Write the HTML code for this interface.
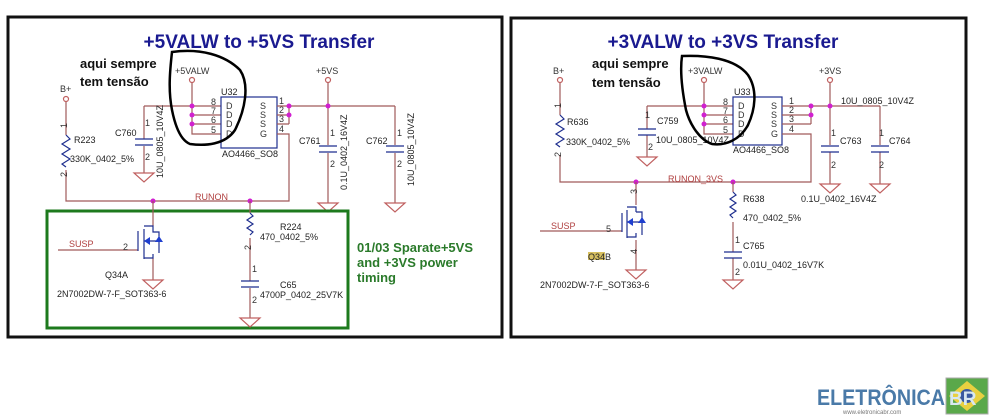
<!DOCTYPE html>
<html><head><meta charset="utf-8"><style>
html,body{margin:0;padding:0;background:#fff;}
svg{display:block;font-family:"Liberation Sans",sans-serif;}
.w{stroke:#a05a5a;stroke-width:1.2;fill:none}
.b{stroke:#1f2f8f;stroke-width:1.2;fill:none}
.d{fill:#d020d0}
.t{font-size:9px;fill:#222}
.p{font-size:9px;fill:#333}
.r{font-size:9px;fill:#b04040}
.g{stroke:#c06060;stroke-width:1.2;fill:none}
</style></head><body>
<svg width="1000" height="418" viewBox="0 0 1000 418">
<rect x="8" y="17" width="494" height="320" fill="none" stroke="#111" stroke-width="3"/>
<rect x="511" y="18" width="455" height="319" fill="none" stroke="#111" stroke-width="3"/>
<text x="259" y="48" text-anchor="middle" font-size="19" font-weight="bold" fill="#1a1a90">+5VALW to +5VS Transfer</text>
<text x="723" y="48" text-anchor="middle" font-size="19" font-weight="bold" fill="#1a1a90">+3VALW to +3VS Transfer</text>
<g font-size="13" font-weight="bold" fill="#111">
<text x="80" y="68">aqui sempre</text><text x="80" y="86">tem tensão</text>
<text x="592" y="68">aqui sempre</text><text x="592" y="87">tem tensão</text>
</g>

<!-- ===== LEFT ===== -->
<text x="175" y="74" class="p">+5VALW</text>
<circle cx="192" cy="80" r="2.5" class="g"/>
<path class="w" d="M192 83V134H221M192 106H221M192 115H221M192 124H221M144 106H192M144 106V139M144 146V173"/>
<rect x="221" y="97" width="56" height="51" class="b"/>
<text x="221" y="95" class="t" fill="#1f2f8f">U32</text>
<g class="p"><text x="211" y="105">8</text><text x="211" y="114">7</text><text x="211" y="123">6</text><text x="211" y="133">5</text>
<text x="226" y="109">D</text><text x="226" y="118">D</text><text x="226" y="127">D</text><text x="226" y="137">D</text>
<text x="260" y="109">S</text><text x="260" y="118">S</text><text x="260" y="127">S</text><text x="260" y="137">G</text>
<text x="279" y="104">1</text><text x="279" y="113">2</text><text x="279" y="122">3</text><text x="279" y="132">4</text></g>
<text x="222" y="157" class="t">AO4466_SO8</text>
<path class="w" d="M277 106H395M277 115H289M277 124H289M289 106V124M277 134H289V201H66V170"/>
<path class="b" d="M135 139H153M135 145H153"/>
<text x="115" y="136" class="t">C760</text><text x="145" y="126" class="p" font-size="8">1</text><text x="145" y="160" class="p" font-size="8">2</text>
<text transform="translate(163,178) rotate(-90)" class="t">10U_0805_10V4Z</text>
<polygon points="134,173 154,173 144,182" class="g"/>
<text x="60" y="92" class="p">B+</text>
<circle cx="66" cy="99" r="2.5" class="g"/>
<path class="w" d="M66 102V135"/>
<path class="b" d="M66 135l4 4-8 5 8 5-8 5 8 5-8 5 4 3"/>
<text x="74" y="143" class="t">R223</text><text x="70" y="162" class="t">330K_0402_5%</text>
<text transform="translate(67,128) rotate(-90)" class="p" font-size="8">1</text>
<text transform="translate(67,177) rotate(-90)" class="p" font-size="8">2</text>
<text x="316" y="74" class="p">+5VS</text>
<circle cx="328" cy="80" r="2.5" class="g"/>
<path class="w" d="M328 83V145M328 153V203M395 106V145M395 153V203"/>
<path class="b" d="M319 146H337M319 152H337M386 146H404M386 152H404"/>
<text x="299" y="144" class="t">C761</text><text x="366" y="144" class="t">C762</text>
<text x="330" y="136" class="p" font-size="8">1</text><text x="330" y="167" class="p" font-size="8">2</text>
<text x="397" y="136" class="p" font-size="8">1</text><text x="397" y="167" class="p" font-size="8">2</text>
<text transform="translate(347,190) rotate(-90)" class="t">0.1U_0402_16V4Z</text>
<text transform="translate(414,186) rotate(-90)" class="t">10U_0805_10V4Z</text>
<polygon points="318,203 338,203 328,212" class="g"/>
<polygon points="385,203 405,203 395,212" class="g"/>
<text x="195" y="200" class="r">RUNON</text>
<circle cx="153" cy="201" r="2.5" class="d"/><circle cx="250" cy="201" r="2.5" class="d"/>
<rect x="47" y="211" width="301" height="117" fill="none" stroke="#1d7a1d" stroke-width="3"/>
<g font-size="13" font-weight="bold" fill="#2a7a2a">
<text x="357" y="252">01/03 Sparate+5VS</text><text x="357" y="267">and +3VS power</text><text x="357" y="282">timing</text></g>
<path class="w" d="M153 201V226M153 258V280M58 250H138"/>
<path class="b" d="M138 231V251M144 229V259M144 226H153V232H159V253M144 241H159M144 258H153V254"/>
<polygon points="144,241 150,237 150,245" fill="#1f3fcf"/><polygon points="159,236 155,242 163,242" fill="#1f3fcf"/>
<text x="69" y="247" class="r">SUSP</text><text x="123" y="250" class="p">2</text>
<text x="105" y="278" class="t">Q34A</text><text x="57" y="297" class="t">2N7002DW-7-F_SOT363-6</text>
<polygon points="143,280 163,280 153,289" class="g"/>
<path class="w" d="M250 201V213M250 238V281M250 288V318"/>
<path class="b" d="M250 213l3 3-6 4 6 4-6 4 6 4-3 3M241 281H259M241 287H259"/>
<text x="280" y="230" class="t">R224</text><text x="260" y="240" class="t">470_0402_5%</text>
<text transform="translate(251,250) rotate(-90)" class="p" font-size="8">2</text>
<text x="252" y="272" class="p" font-size="8">1</text><text x="252" y="303" class="p" font-size="8">2</text>
<text x="280" y="288" class="t">C65</text><text x="260" y="298" class="t">4700P_0402_25V7K</text>
<polygon points="240,318 260,318 250,327" class="g"/>
<circle cx="192" cy="106" r="2.5" class="d"/><circle cx="192" cy="115" r="2.5" class="d"/><circle cx="192" cy="124" r="2.5" class="d"/>
<circle cx="289" cy="106" r="2.5" class="d"/><circle cx="289" cy="115" r="2.5" class="d"/><circle cx="328" cy="106" r="2.5" class="d"/>
<path d="M172 52C200 48 225 55 240 70C250 85 245 110 235 130C225 145 205 146 190 144C180 140 175 125 172 110C168 90 170 70 172 52Z" fill="none" stroke="#000" stroke-width="2.5"/>

<!-- ===== RIGHT ===== -->
<text x="688" y="74" class="p">+3VALW</text>
<circle cx="704" cy="80" r="2.5" class="g"/>
<path class="w" d="M704 83V134H733M704 106H733M704 115H733M704 124H733M647 106H704M647 106V129M647 135V157"/>
<rect x="733" y="97" width="49" height="48" class="b"/>
<text x="734" y="95" class="t" fill="#1f2f8f">U33</text>
<g class="p"><text x="723" y="105">8</text><text x="723" y="114">7</text><text x="723" y="123">6</text><text x="723" y="133">5</text>
<text x="738" y="109">D</text><text x="738" y="118">D</text><text x="738" y="127">D</text><text x="738" y="137">D</text>
<text x="771" y="109">S</text><text x="771" y="118">S</text><text x="771" y="127">S</text><text x="771" y="137">G</text>
<text x="789" y="104">1</text><text x="789" y="113">2</text><text x="789" y="122">3</text><text x="789" y="132">4</text></g>
<text x="733" y="153" class="t">AO4466_SO8</text>
<path class="w" d="M782 106H880M782 115H811M782 124H811M811 106V124M782 134H811V182H560V155"/>
<path class="b" d="M638 129H656M638 135H656"/>
<text x="657" y="124" class="t">C759</text><text x="656" y="143" class="t">10U_0805_10V4Z</text>
<text x="645" y="118" class="p" font-size="8">1</text><text x="648" y="150" class="p" font-size="8">2</text>
<polygon points="637,157 657,157 647,166" class="g"/>
<text x="553" y="74" class="p">B+</text>
<circle cx="560" cy="80" r="2.5" class="g"/>
<path class="w" d="M560 83V115"/>
<path class="b" d="M560 115l4 4-8 5 8 5-8 5 8 5-8 5 4 3"/>
<text x="567" y="125" class="t">R636</text><text x="566" y="145" class="t">330K_0402_5%</text>
<text transform="translate(561,108) rotate(-90)" class="p" font-size="8">1</text>
<text transform="translate(561,157) rotate(-90)" class="p" font-size="8">2</text>
<text x="819" y="74" class="p">+3VS</text>
<circle cx="830" cy="80" r="2.5" class="g"/>
<path class="w" d="M830 83V145M830 152V184M880 106V145M880 152V184"/>
<path class="b" d="M821 146H839M821 152H839M871 146H889M871 152H889"/>
<text x="841" y="104" class="t">10U_0805_10V4Z</text>
<text x="840" y="144" class="t">C763</text><text x="889" y="144" class="t">C764</text>
<text x="831" y="136" class="p" font-size="8">1</text><text x="831" y="168" class="p" font-size="8">2</text>
<text x="879" y="136" class="p" font-size="8">1</text><text x="879" y="168" class="p" font-size="8">2</text>
<polygon points="820,184 840,184 830,193" class="g"/><polygon points="870,184 890,184 880,193" class="g"/>
<text x="801" y="202" class="t">0.1U_0402_16V4Z</text>
<text x="668" y="182" class="r">RUNON_3VS</text>
<circle cx="636" cy="182" r="2.5" class="d"/><circle cx="733" cy="182" r="2.5" class="d"/>
<path class="w" d="M636 182V205M636 240V270M540 231H622"/>
<path class="b" d="M622 213V232M627 210V238M627 207H636V212M636 212H642V235M627 222H642M627 237H636V233"/>
<polygon points="627,222 633,218 633,226" fill="#1f3fcf"/><polygon points="642,217 638,223 646,223" fill="#1f3fcf"/>
<text transform="translate(637,194) rotate(-90)" class="p" font-size="8">3</text>
<text transform="translate(637,254) rotate(-90)" class="p" font-size="8">4</text>
<text x="551" y="229" class="r">SUSP</text><text x="606" y="232" class="p">5</text>
<rect x="588" y="252" width="17" height="8" fill="#d8c060"/>
<text x="588" y="260" class="t">Q34B</text>
<text x="540" y="288" class="t">2N7002DW-7-F_SOT363-6</text>
<polygon points="626,270 646,270 636,279" class="g"/>
<path class="w" d="M733 182V192M733 222V252M733 258V280"/>
<path class="b" d="M733 192l3 3-6 4 6 4-6 4 6 4-6 4 3 3M724 252H742M724 258H742"/>
<text x="743" y="202" class="t">R638</text><text x="743" y="221" class="t">470_0402_5%</text>
<text x="743" y="249" class="t">C765</text><text x="743" y="268" class="t">0.01U_0402_16V7K</text>
<text x="735" y="243" class="p" font-size="8">1</text><text x="735" y="275" class="p" font-size="8">2</text>
<polygon points="723,280 743,280 733,289" class="g"/>
<circle cx="704" cy="106" r="2.5" class="d"/><circle cx="704" cy="115" r="2.5" class="d"/><circle cx="704" cy="124" r="2.5" class="d"/>
<circle cx="811" cy="106" r="2.5" class="d"/><circle cx="811" cy="115" r="2.5" class="d"/><circle cx="830" cy="106" r="2.5" class="d"/>
<path d="M682 56C705 55 735 58 748 75C758 90 755 110 748 125C740 140 725 146 712 144C700 140 690 125 686 110C682 90 680 70 682 56Z" fill="none" stroke="#000" stroke-width="2.5"/>

<!-- logo -->
<rect x="946" y="378" width="42" height="36" fill="#5aa84a" stroke="#aaa"/>
<polygon points="967,381 985,396 967,411 949,396" fill="#e8d040"/>
<circle cx="967" cy="396" r="7" fill="#3a5aa0"/>
<text x="949" y="405" font-size="19" font-weight="bold" fill="#d8e8f0">BR</text>
<text x="817" y="405" font-size="22" font-weight="bold" fill="#4a7aa8" textLength="128" lengthAdjust="spacingAndGlyphs">ELETRÔNICA</text>
<text x="843" y="414" font-size="6" fill="#777">www.eletronicabr.com</text>
</svg>
</body></html>
